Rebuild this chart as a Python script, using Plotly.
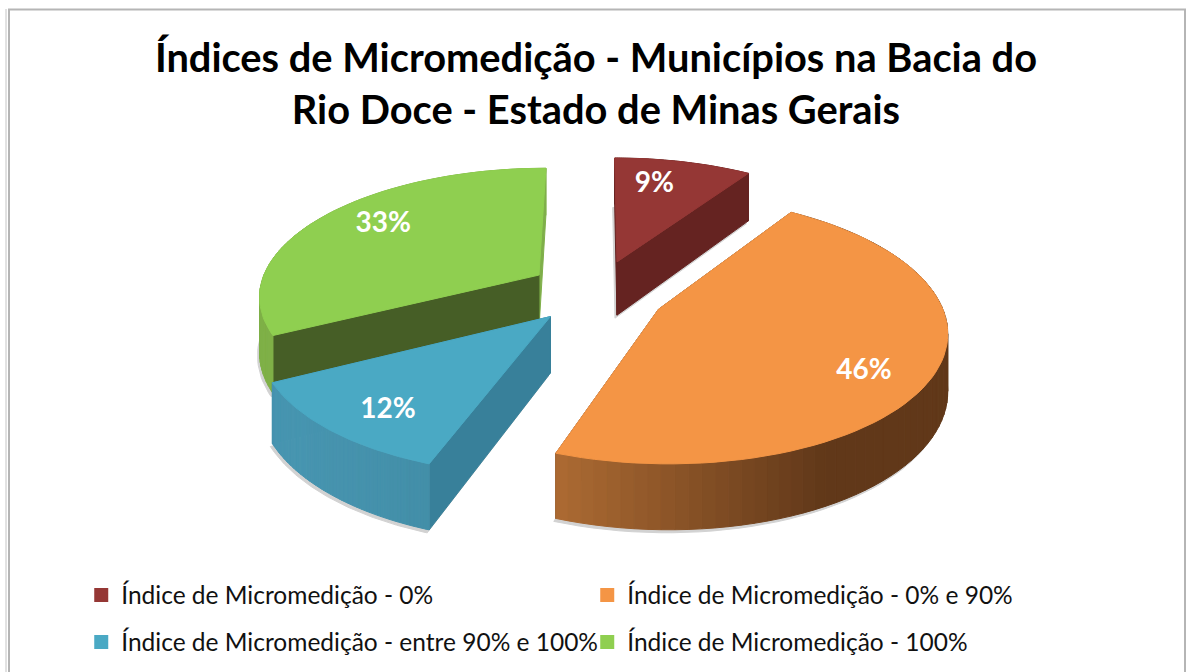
import math
import plotly.graph_objects as go

# Data
categories = ["Índice de Micromedição - 0%", "Índice de Micromedição - 0% e 90%",
              "Índice de Micromedição - entre 90% e 100%", "Índice de Micromedição - 100%"]
values = [9.3, 46.2, 11.9, 32.6]
title = "Índices de Micromedição - Municípios na Bacia do<br>Rio Doce - Estado de Minas Gerais"

# Style
top_colors = ["#953735", "#F49545", "#4AA9C4", "#8FCF50"]
wall_colors = ["#652321", "#643A1C", "#38809A", "#465E26"]
rim_light = ["#652321", "#AD6B33", "#4795B0", "#7FB047"]
rim_dark = ["#652321", "#613819", "#377C92", "#7FB047"]
end_walls = ["#652321", "#643A1C", "#38809A", "#7FAF4A"]
label_r = [0.8, 0.72, 0.8, 0.62]
label_shift = [(-17, 5), (10, 18), (9, 6), (-19, -12)]
slice_shift = [(1, -1), (2, 6), (-4, 4), (-5, 0)]
pull = 0.23
CX, CY, RX, RY, K, H = 598, 290, 280, 127, 0.15, 55
SHADOW = "#D2D2D2"


def project(u, v, z=0.0, shift=(0, 0)):
    s = 1 / (1 - K * v)
    return CX + RX * u * s + shift[0], CY + RY * v * s + H * z * s + shift[1]


def rim_point(a, m, r=1.0):
    return pull * math.sin(m) + r * math.sin(a), -pull * math.cos(m) - r * math.cos(a)


def mix(c1, c2, t):
    a = [int(c1[i:i + 2], 16) for i in (1, 3, 5)]
    b = [int(c2[i:i + 2], 16) for i in (1, 3, 5)]
    return "rgb(%d,%d,%d)" % tuple(round(x + (y - x) * t) for x, y in zip(a, b))


fig = go.Figure()


def poly(pts, color, dx=0, dy=0):
    fig.add_trace(go.Scatter(
        x=[p[0] + dx for p in pts] + [pts[0][0] + dx],
        y=[p[1] + dy for p in pts] + [pts[0][1] + dy],
        mode="lines", fill="toself", fillcolor=color,
        line=dict(color=color, width=1),
        hoverinfo="skip", showlegend=False))


total = sum(values)
bounds = []
acc = 0
for v in values:
    bounds.append((2 * math.pi * acc / total, 2 * math.pi * (acc + v) / total))
    acc += v

labels = []
for i in [0, 3, 2, 1]:
    a0, a1 = bounds[i]
    m = (a0 + a1) / 2
    n = 72
    sh = slice_shift[i]
    apex = (pull * math.sin(m), -pull * math.cos(m))
    ang = [a0 + (a1 - a0) * j / n for j in range(n + 1)]
    world = [rim_point(a, m) for a in ang]
    P = lambda w, z=0.0: project(w[0], w[1], z, sh)
    top = [P(apex)] + [P(w) for w in world]
    bottom = [P(apex, 1)] + [P(w, 1) for w in world]
    poly(bottom, SHADOW, -2, 3)
    walls = []
    walls.append((apex[1] + world[0][1], [P(apex), P(world[0]), P(world[0], 1), P(apex, 1)], wall_colors[i]))
    walls.append((apex[1] + world[-1][1], [P(apex), P(world[-1]), P(world[-1], 1), P(apex, 1)], end_walls[i]))
    for j in range(n):
        x = P(world[j])[0]
        t = max(0, min(1, (x - 300) / 500 if i != 1 else (x - 560) / 270))
        walls.append((2 * world[j][1], [P(world[j]), P(world[j + 1]), P(world[j + 1], 1), P(world[j], 1)], mix(rim_light[i], rim_dark[i], t)))
    walls.sort(key=lambda w: w[0])
    for _, pts, c in walls:
        poly(pts, c)
    poly(top, top_colors[i])
    lx, ly = P(rim_point(m, m, label_r[i]))
    labels.append((lx + label_shift[i][0], ly + label_shift[i][1], f"{round(values[i])}%"))

fig.add_trace(go.Scatter(
    x=[p[0] for p in labels], y=[p[1] for p in labels], text=[p[2] for p in labels],
    mode="text", textfont=dict(family="Lato", size=28, color="white", weight="bold"),
    hoverinfo="skip", showlegend=False))

for i, name in enumerate(categories):
    fig.add_trace(go.Scatter(
        x=[None], y=[None], mode="markers", name=name,
        marker=dict(symbol="square", size=14, color=top_colors[i]),
        legend="legend" if i < 2 else "legend2"))

leg = dict(orientation="h", xanchor="left", yanchor="middle", entrywidth=461, entrywidthmode="pixels",
           itemwidth=30, bgcolor="rgba(0,0,0,0)", font=dict(family="Lato", size=24.5, color="#111111"),
           itemclick=False, itemdoubleclick=False)
fig.update_layout(
    width=1186, height=672, autosize=False, showlegend=True,
    margin=dict(l=0, r=0, t=0, b=0),
    paper_bgcolor="white", plot_bgcolor="white",
    xaxis=dict(visible=False, range=[0, 1186], fixedrange=True),
    yaxis=dict(visible=False, range=[672, 0], fixedrange=True),
    title=dict(text=title, x=0.5025, xanchor="center", y=0.893, yanchor="bottom",
               font=dict(family="Lato", size=39.8, color="#000000", weight="bold")),
    legend=dict(leg, x=0.0685, y=1 - 595 / 672),
    legend2=dict(leg, x=0.0685, y=1 - 642 / 672),
    shapes=[
        dict(type="rect", xref="x", yref="y", x0=9, y0=9.5, x1=1185, y1=700, line=dict(color="#B5B5B5", width=2)),
        dict(type="line", xref="x", yref="y", x0=6, y0=9, x1=6, y1=672, line=dict(color="#C4C4C4", width=1)),
    ],
)
fig.write_html("out.html", config={"displayModeBar": False}, post_script="document.body.style.margin='0';")
